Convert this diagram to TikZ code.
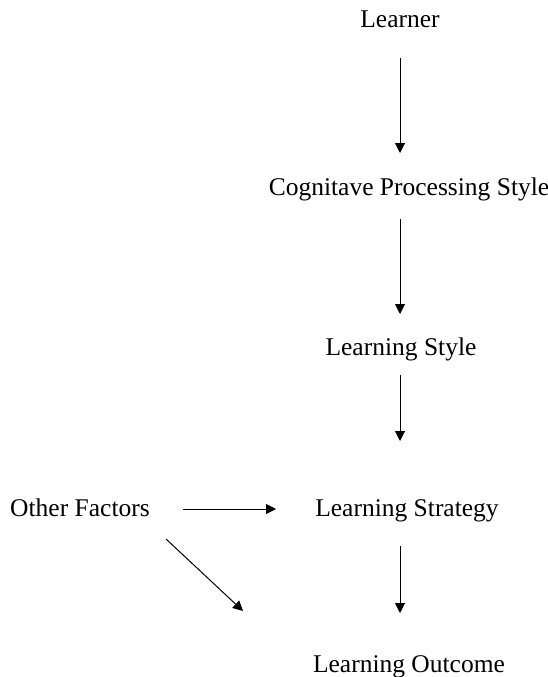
\documentclass[tikz,border=0pt]{standalone}
\usepackage{fontspec}
\setmainfont{Liberation Serif}
\usetikzlibrary{arrows.meta}
\begin{document}
\begin{tikzpicture}[x=1pt,y=-1pt,
  lbl/.style={anchor=base,inner sep=0pt,font=\fontsize{25.5}{29}\selectfont},
  arr/.style={line width=1pt,-{Triangle[width=10pt,length=10pt]}}]
\useasboundingbox (0,0) rectangle (548,677);
\node[lbl] (learner) at (400,28) {Learner};
\node[lbl] (cps) at (409,195) {Cognitave Processing Style};
\node[lbl] (ls) at (401,355) {Learning Style};
\node[lbl] (lst) at (407,516) {Learning Strategy};
\node[lbl] (lo) at (409,672) {Learning Outcome};
\node[lbl] (of) at (80,516) {Other Factors};
\coordinate (a1s) at (400,58);  \coordinate (a1e) at (400,153);
\coordinate (a2s) at (400,219); \coordinate (a2e) at (400,314);
\coordinate (a3s) at (400,375); \coordinate (a3e) at (400,441);
\coordinate (a4s) at (400,546); \coordinate (a4e) at (400,613);
\coordinate (hs) at (183,509);  \coordinate (he) at (276,509);
\coordinate (ds) at (166,539);  \coordinate (de) at (243,611);
\draw[arr] (a1s) -- (a1e);
\draw[arr] (a2s) -- (a2e);
\draw[arr] (a3s) -- (a3e);
\draw[arr] (a4s) -- (a4e);
\draw[arr] (hs) -- (he);
\draw[arr] (ds) -- (de);
\end{tikzpicture}
\end{document}
